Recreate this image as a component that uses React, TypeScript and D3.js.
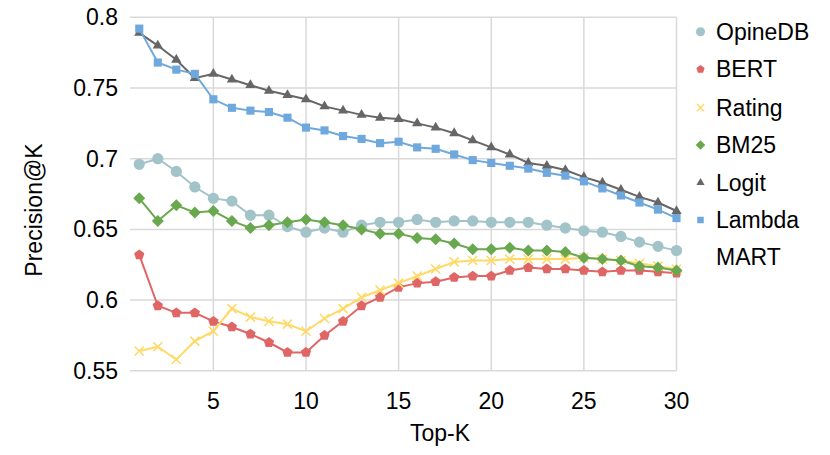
import { useEffect, useRef } from 'react';
import * as d3 from 'd3';

const topK = d3.range(1, 31);

const seriesNames = ['OpineDB', 'BERT', 'Rating', 'BM25', 'Logit', 'LambdaMART'];
const seriesColors = ['#a2c4c9', '#e06666', '#ffd966', '#6aa84f', '#666666', '#6fa8dc'];

const opinedb = [
  0.696, 0.7, 0.691, 0.68, 0.672, 0.67, 0.66, 0.66, 0.652, 0.648,
  0.651, 0.648, 0.653, 0.655, 0.655, 0.657, 0.655, 0.656, 0.656, 0.655,
  0.655, 0.655, 0.653, 0.651, 0.649, 0.648, 0.645, 0.641, 0.638, 0.635,
];
const bert = [
  0.632, 0.596, 0.591, 0.591, 0.585, 0.581, 0.576, 0.57, 0.563, 0.563,
  0.575, 0.585, 0.596, 0.602, 0.609, 0.612, 0.613, 0.616, 0.617, 0.617,
  0.621, 0.623, 0.622, 0.622, 0.621, 0.62, 0.621, 0.621, 0.62, 0.619,
];
const rating = [
  0.564, 0.567, 0.558, 0.571, 0.578, 0.594, 0.588, 0.585, 0.583, 0.578,
  0.587, 0.594, 0.602, 0.607, 0.612, 0.617, 0.622, 0.627, 0.628, 0.628,
  0.629, 0.629, 0.629, 0.629, 0.63, 0.629, 0.628, 0.626, 0.624, 0.622,
];
const bm25 = [
  0.672, 0.656, 0.667, 0.662, 0.663, 0.656, 0.651, 0.653, 0.655, 0.657,
  0.655, 0.653, 0.65, 0.647, 0.647, 0.644, 0.643, 0.64, 0.636, 0.636,
  0.637, 0.635, 0.635, 0.634, 0.63, 0.629, 0.628, 0.624, 0.623, 0.621,
];
const logit = [
  0.789, 0.78, 0.77, 0.757, 0.76, 0.756, 0.752, 0.748, 0.745, 0.742,
  0.737, 0.734, 0.731, 0.729, 0.728, 0.725, 0.722, 0.718, 0.713, 0.708,
  0.703, 0.697, 0.695, 0.692, 0.687, 0.683, 0.678, 0.673, 0.669, 0.663,
];
const lambdamart = [
  0.792, 0.768, 0.763, 0.76, 0.742, 0.736, 0.734, 0.733, 0.729, 0.722,
  0.72, 0.716, 0.714, 0.711, 0.712, 0.708, 0.707, 0.703, 0.699, 0.697,
  0.695, 0.693, 0.69, 0.688, 0.684, 0.679, 0.674, 0.669, 0.664, 0.658,
];

const seriesValues = [opinedb, bert, rating, bm25, logit, lambdamart];
const legendLabels = [['OpineDB'], ['BERT'], ['Rating'], ['BM25'], ['Logit'], ['Lambda', 'MART']];

const xTicks = [5, 10, 15, 20, 25, 30];
const yTicks = [0.55, 0.6, 0.65, 0.7, 0.75, 0.8];

const W = 830;
const H = 455;
const FONT = '"Liberation Sans", Arial, sans-serif';
const FS = 23;

function polygon(n: number, r: number, rot: number) {
  const pts = d3.range(n).map((i) => {
    const a = rot + (i * 2 * Math.PI) / n;
    return [r * Math.cos(a), r * Math.sin(a)];
  });
  return 'M' + pts.map((p) => p.map((v) => v.toFixed(2)).join(',')).join('L') + 'Z';
}

// marker shapes, same order as the series
function markerPath(i: number, s: number) {
  if (i === 0) return d3.symbol(d3.symbolCircle, 100 * s * s)()!;
  if (i === 1) return polygon(5, 5.4 * s, -Math.PI / 2);
  if (i === 2) return d3.symbol(d3.symbolX, 55 * s * s)()!;
  if (i === 3) return polygon(4, 6 * s, -Math.PI / 2);
  if (i === 4) return d3.symbol(d3.symbolTriangle, 45 * s * s)()!;
  return d3.symbol(d3.symbolSquare, 66 * s * s)()!;
}

export default function App() {
  const svgRef = useRef<SVGSVGElement>(null);

  useEffect(() => {
    if (!svgRef.current) return;
    const svg = d3.select(svgRef.current);
    svg.selectAll('*').remove();

    const x = d3.scaleLinear().domain([0.5, 30]).range([130, 676.5]);
    const y = d3.scaleLinear().domain([0.55, 0.8]).range([370.8, 17.3]);

    const grid = svg.append('g');
    yTicks.forEach((t) => {
      grid.append('line')
        .attr('x1', x(0.5)).attr('x2', x(30))
        .attr('y1', y(t)).attr('y2', y(t))
        .attr('stroke', '#d9d9d9').attr('stroke-width', 1.5);
    });
    xTicks.forEach((t) => {
      grid.append('line')
        .attr('x1', x(t)).attr('x2', x(t))
        .attr('y1', y(0.55)).attr('y2', y(0.8))
        .attr('stroke', '#d9d9d9').attr('stroke-width', 1.5);
    });

    // tick labels
    yTicks.forEach((t) => {
      svg.append('text')
        .attr('x', 118).attr('y', y(t))
        .attr('text-anchor', 'end').attr('dominant-baseline', 'central')
        .attr('font-family', FONT).attr('font-size', FS).attr('fill', '#000')
        .text(String(t));
    });
    xTicks.forEach((t) => {
      svg.append('text')
        .attr('x', x(t)).attr('y', 401)
        .attr('text-anchor', 'middle').attr('dominant-baseline', 'central')
        .attr('font-family', FONT).attr('font-size', FS).attr('fill', '#000')
        .text(String(t));
    });

    svg.append('text')
      .attr('x', 440).attr('y', 433)
      .attr('text-anchor', 'middle').attr('dominant-baseline', 'central')
      .attr('font-family', FONT).attr('font-size', FS).attr('fill', '#000')
      .text('Top-K');
    svg.append('text')
      .attr('transform', 'translate(34,210) rotate(-90)')
      .attr('text-anchor', 'middle').attr('dominant-baseline', 'central')
      .attr('font-family', FONT).attr('font-size', FS).attr('fill', '#000')
      .text('Precision@K');

    // series lines and markers
    seriesValues.forEach((vals, i) => {
      const color = seriesColors[i];
      const line = d3.line<number>()
        .x((_, j) => x(topK[j]))
        .y((d) => y(d));
      const g = svg.append('g');
      g.append('path')
        .datum(vals)
        .attr('d', line)
        .attr('fill', 'none')
        .attr('stroke', color)
        .attr('stroke-width', 2);
      vals.forEach((v, j) => {
        const p = g.append('path')
          .attr('d', markerPath(i, 1))
          .attr('transform', `translate(${x(topK[j])},${y(v)})`);
        if (i === 2) {
          p.attr('fill', 'none').attr('stroke', color).attr('stroke-width', 1.6);
        } else {
          p.attr('fill', color);
        }
      });
    });

    // legend
    const legendY = [31.7, 69.3, 107.7, 145, 182.7, 220];
    seriesNames.forEach((_, i) => {
      const color = seriesColors[i];
      const p = svg.append('path')
        .attr('d', markerPath(i, 0.8))
        .attr('transform', `translate(700.5,${legendY[i]})`);
      if (i === 2) {
        p.attr('fill', 'none').attr('stroke', color).attr('stroke-width', 1.4);
      } else {
        p.attr('fill', color);
      }
      legendLabels[i].forEach((lbl, k) => {
        svg.append('text')
          .attr('x', 716).attr('y', legendY[i] + k * 36.7)
          .attr('dominant-baseline', 'central')
          .attr('font-family', FONT).attr('font-size', FS).attr('fill', '#000')
          .text(lbl);
      });
    });
  }, []);

  return (
    <div style={{ position: 'absolute', left: 0, top: 0 }}>
      <svg ref={svgRef} width={W} height={H} style={{ display: 'block', background: '#fff' }} />
    </div>
  );
}
